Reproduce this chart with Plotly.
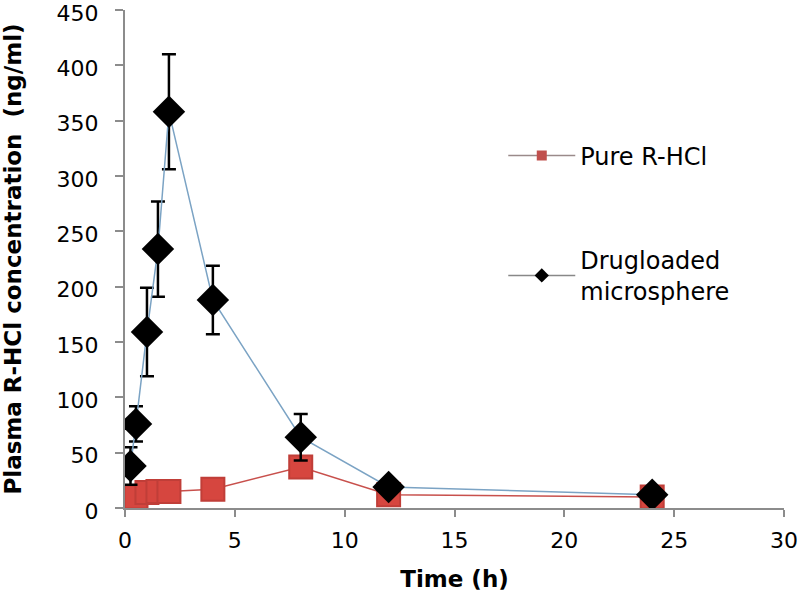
import plotly.graph_objects as go

time_h = [0.25, 0.5, 1, 1.5, 2, 4, 8, 12, 24]
pure_rhcl = [8, 10, 14, 15, 15, 17, 37, 12, 10]
microsphere = [38, 76, 159, 234, 358, 188, 64, 19, 12]
microsphere_err = [17, 16, 40, 43, 52, 31, 21, 0, 0]

x_ticks = [0, 5, 10, 15, 20, 25, 30]
y_ticks = [0, 50, 100, 150, 200, 250, 300, 350, 400, 450]

red = "#D6463F"
blue_line = "#7BA3C4"
font_family = "DejaVu Sans"

fig = go.Figure()

fig.add_trace(go.Scatter(
    x=time_h, y=pure_rhcl, mode="lines+markers",
    line=dict(color="#C8504C", width=1.5),
    marker=dict(symbol="square", size=23, color=red, line=dict(color="#C03E38", width=2)),
    showlegend=False,
))
fig.add_trace(go.Scatter(
    x=time_h, y=microsphere, mode="lines+markers",
    line=dict(color=blue_line, width=1.5),
    marker=dict(symbol="diamond", size=25, color="black"),
    error_y=dict(type="data", array=microsphere_err, visible=True, color="black", thickness=2.5, width=7),
    showlegend=False,
))

# legend entries
fig.add_trace(go.Scatter(
    x=[None], y=[None], mode="lines+markers", name="Pure R-HCl",
    line=dict(color="#9A8A8A", width=1.5),
    marker=dict(symbol="square", size=10, color="#C0504D"),
    legendgroup="a",
))
fig.add_trace(go.Scatter(
    x=[None], y=[None], mode="lines+markers", name="Drugloaded<br>microsphere",
    line=dict(color="#888888", width=1.5),
    marker=dict(symbol="diamond", size=11, color="black"),
    legendgroup="b",
))

fig.update_layout(
    width=799, height=598,
    margin=dict(l=125, r=15, t=10, b=90),
    plot_bgcolor="white", paper_bgcolor="white",
    font=dict(family=font_family, color="black", size=22),
    legend=dict(
        x=0.574, y=0.752, xanchor="left", yanchor="top",
        font=dict(size=24, family=font_family),
        tracegroupgap=70, itemwidth=67,
        bgcolor="rgba(0,0,0,0)",
    ),
    xaxis=dict(
        range=[0, 30], tickvals=x_ticks, ticktext=[str(v) for v in x_ticks],
        showgrid=False, zeroline=False, showline=True, linecolor="#8C8C8C", linewidth=2,
        ticks="outside", ticklen=7, tickcolor="#8C8C8C", tickwidth=1.5,
        title=dict(text="<b>Time (h)</b>", font=dict(size=23), standoff=18),
        tickfont=dict(size=22), automargin=False, ticklabeloverflow="allow",
        ticklabelstandoff=5,
    ),
    yaxis=dict(
        range=[0, 450], tickvals=y_ticks, ticktext=[str(v) for v in y_ticks],
        showgrid=False, zeroline=False, showline=True, linecolor="#8C8C8C", linewidth=2,
        ticks="outside", ticklen=8, tickcolor="#8C8C8C", tickwidth=1.5,
        title=dict(text="<b>Plasma R-HCl concentration  (ng/ml)</b>", font=dict(size=23), standoff=40),
        tickfont=dict(size=22), automargin=False, ticklabeloverflow="allow",
        ticklabelstandoff=12, ticklabelshift=3,
    ),
)

fig.write_html("out.html", config={"displayModeBar": False},
               post_script="document.body.style.margin='0px';")
